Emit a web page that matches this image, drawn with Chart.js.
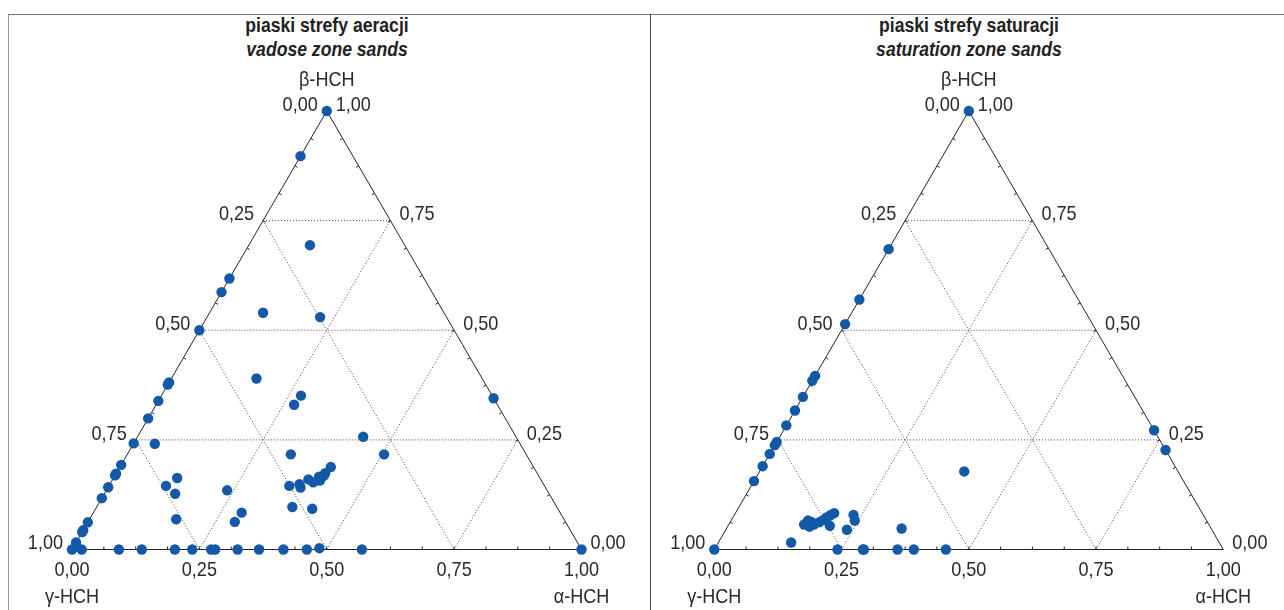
<!DOCTYPE html>
<html>
<head>
<meta charset="utf-8">
<script src="https://cdn.jsdelivr.net/npm/chart.js@4.4.1/dist/chart.umd.min.js"></script>
<style>
  body { margin: 0; background: #fff; }
  #page { position: relative; width: 1284px; height: 610px; overflow: hidden; background: #fff; }
  .frame { position: absolute; left: 8px; top: 14px; width: 1280px; height: 610px; border-top: 1px solid #777; border-left: 1px solid #999; }
  .divider { position: absolute; left: 650px; top: 14px; height: 610px; border-left: 1px solid #444; }
  .title { position: absolute; top: 13px; width: 300px; text-align: center; color: #222;
           font-family: "Liberation Sans", Arial, sans-serif;
           font-weight: bold; font-size: 20px; line-height: 24px;
           transform: scaleX(0.88); }
  .title i { font-style: italic; }
  canvas { position: absolute; top: 0; }
</style>
</head>
<body>
<div id="page">
  <div class="frame"></div>
  <div class="divider"></div>
  <div class="title" style="left:177px">piaski strefy aeracji<br><i>vadose zone sands</i></div>
  <div class="title" style="left:819px">piaski strefy saturacji<br><i>saturation zone sands</i></div>
  <canvas id="vadose" width="650" height="610" style="left:0"></canvas>
  <canvas id="saturation" width="634" height="610" style="left:650px"></canvas>
</div>
<script>
// axis ticks and labels
const tickValues = [0, 0.25, 0.5, 0.75, 1];
const tickLabels = ['0,00', '0,25', '0,50', '0,75', '1,00'];
const gridLevels = [0.25, 0.5, 0.75];
const cornerNames = ['γ-HCH', 'α-HCH', 'β-HCH'];

// vadose zone sands: fractions of alpha-HCH and beta-HCH (gamma = 1 - alpha - beta)
const vadoseAlpha = [
  0, 0, 0, 0, 0, 0, 0, 0, 0, 0, 0, 0, 0, 0, 0, 0, 0, 0, 0, 0,
  0.120, 0.105, 0.222, 0.167, 0.274, 0.271, 0.443, 0.042, 0.321, 0.504,
  0.112, 0.125, 0.139, 0.170, 0.237, 0.291, 0.288, 0.354, 0.372, 0.378,
  0.384, 0.425, 0.384, 0.397, 0.402, 0.408, 0.410, 0.410, 0.414,
  0.655,
  0.019, 0.092, 0.137, 0.202, 0.236, 0.273, 0.281, 0.325, 0.367, 0.415, 0.461, 0.484, 0.569, 1.0
];
const vadoseBeta = [
  1.0, 0.897, 0.618, 0.587, 0.500, 0.381, 0.376, 0.339, 0.299, 0.242, 0.193, 0.173, 0.169, 0.142, 0.117, 0.062, 0.044, 0.040, 0.016, 0,
  0.694, 0.540, 0.530, 0.390, 0.351, 0.330, 0.257, 0.241, 0.217, 0.217,
  0.145, 0.163, 0.127, 0.069, 0.135, 0.084, 0.063, 0.145, 0.149, 0.141,
  0.097, 0.093, 0.160, 0.153, 0.166, 0.157, 0.174, 0.168, 0.188,
  0.345,
  0, 0, 0, 0, 0, 0, 0, 0, 0, 0, 0, 0.003, 0, 0
];

// saturation zone sands
const saturationAlpha = [
  0, 0, 0, 0, 0, 0, 0, 0, 0, 0, 0, 0, 0, 0, 0,
  0.143, 0.148, 0.151, 0.161, 0.159, 0.167, 0.175, 0.180, 0.184, 0.189, 0.194, 0.200,
  0.234, 0.243, 0.238, 0.344, 0.402,
  0.728, 0.773,
  0.242, 0.292, 0.294, 0.360, 0.392, 0.455
];
const saturationBeta = [
  1.0, 0.685, 0.570, 0.514, 0.396, 0.385, 0.348, 0.317, 0.283, 0.245, 0.238, 0.218, 0.190, 0.156, 0,
  0.016, 0.057, 0.066, 0.052, 0.063, 0.057, 0.062, 0.067, 0.073, 0.078, 0.083, 0.054,
  0.079, 0.066, 0.045, 0.048, 0.178,
  0.272, 0.227,
  0, 0, 0, 0, 0, 0
];

const FONT = '21px "Liberation Sans", Arial, sans-serif';
const SQUEEZE = 0.86;

// condensed text: draw with a horizontal squeeze
function drawText(ctx, text, x, y, align) {
  ctx.save();
  ctx.translate(x, y);
  ctx.scale(SQUEEZE, 1);
  ctx.textAlign = align;
  ctx.fillText(text, 0, 0);
  ctx.restore();
}

// ternary frame, dotted grid, ticks and labels
const ternaryPlugin = {
  id: 'ternary',
  beforeDatasetsDraw(chart) {
    const ctx = chart.ctx;
    const xs = chart.scales.x, ys = chart.scales.y;
    const pos = (a, b) => [xs.getPixelForValue(a + b / 2), ys.getPixelForValue(b)];
    const line = (p, q) => { ctx.beginPath(); ctx.moveTo(p[0], p[1]); ctx.lineTo(q[0], q[1]); ctx.stroke(); };

    ctx.save();
    // dotted grid
    ctx.strokeStyle = '#444';
    ctx.lineWidth = 1;
    ctx.setLineDash([1, 2]);
    gridLevels.forEach(t => {
      line(pos(0, t), pos(1 - t, t));
      line(pos(t, 0), pos(t, 1 - t));
      line(pos(0, 1 - t), pos(1 - t, 0));
    });

    // triangle
    ctx.setLineDash([]);
    ctx.strokeStyle = '#222';
    const g = pos(0, 0), a = pos(1, 0), b = pos(0, 1);
    ctx.beginPath();
    ctx.moveTo(g[0], g[1]); ctx.lineTo(a[0], a[1]); ctx.lineTo(b[0], b[1]); ctx.closePath();
    ctx.stroke();

    // small ticks every 1/16, pointing inwards
    for (let k = 1; k < 16; k++) {
      const v = k / 16;
      let p = pos(v, 0);
      line(p, [p[0], p[1] - 3]);
      p = pos(0, v);
      line(p, [p[0] + 2.6, p[1] + 1.5]);
      p = pos(1 - v, v);
      line(p, [p[0] - 2.6, p[1] + 1.5]);
    }

    // labels
    ctx.fillStyle = '#2a2a2a';
    ctx.font = FONT;
    ctx.textBaseline = 'middle';
    tickValues.forEach((v, i) => {
      let p = pos(v, 0);
      drawText(ctx, tickLabels[i], p[0], p[1] + 21, 'center');
      p = pos(0, 1 - v);
      drawText(ctx, tickLabels[i], p[0] - 9, p[1] - 6, 'right');
      p = pos(1 - v, v);
      drawText(ctx, tickLabels[i], p[0] + 9, p[1] - 6, 'left');
    });
    drawText(ctx, cornerNames[0], g[0], g[1] + 48, 'center');
    drawText(ctx, cornerNames[1], a[0], a[1] + 48, 'center');
    drawText(ctx, cornerNames[2], b[0], b[1] - 31, 'center');
    ctx.restore();
  }
};

function makeTernary(id, alpha, beta, pad) {
  const points = alpha.map((a, i) => ({ x: a + beta[i] / 2, y: beta[i] }));
  return new Chart(document.getElementById(id), {
    type: 'scatter',
    data: {
      datasets: [{
        data: points,
        backgroundColor: '#1458a8',
        borderWidth: 0,
        pointRadius: 5.2,
        pointHoverRadius: 5.2,
        clip: false
      }]
    },
    options: {
      responsive: false,
      animation: false,
      layout: { padding: pad },
      scales: {
        x: { type: 'linear', min: 0, max: 1, display: false },
        y: { type: 'linear', min: 0, max: 1, display: false }
      },
      plugins: { legend: { display: false }, tooltip: { enabled: false } }
    },
    plugins: [ternaryPlugin]
  });
}

makeTernary('vadose', vadoseAlpha, vadoseBeta, { left: 72, right: 68.5, top: 111, bottom: 60.5 });
makeTernary('saturation', saturationAlpha, saturationBeta, { left: 64.3, right: 60.7, top: 111, bottom: 60.5 });
</script>
</body>
</html>
